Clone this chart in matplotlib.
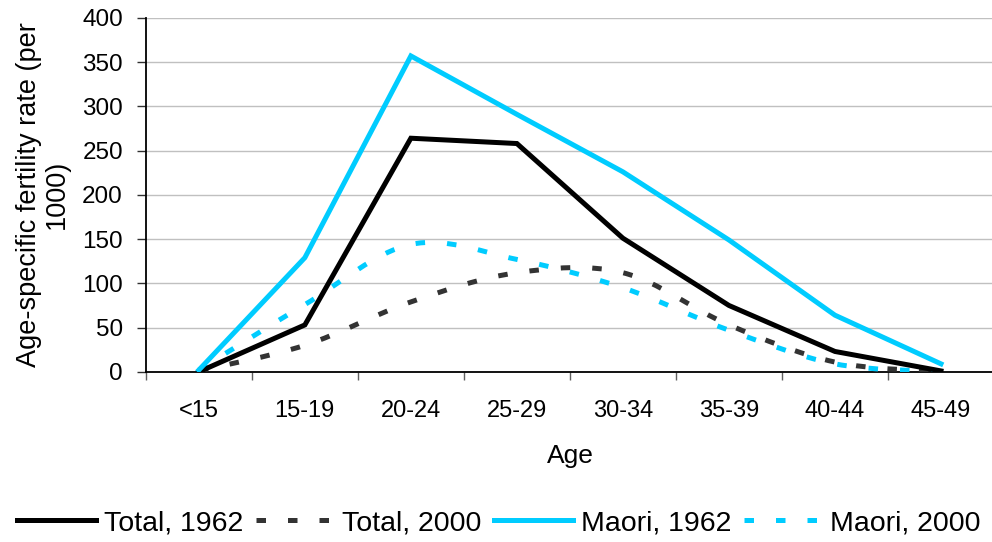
import numpy as np
import matplotlib
matplotlib.use('Agg')
import matplotlib.pyplot as plt
from matplotlib.path import Path
from matplotlib.patches import PathPatch
from matplotlib.lines import Line2D

plt.rcParams['font.family'] = ['Liberation Sans', 'DejaVu Sans']

ages = ['<15', '15-19', '20-24', '25-29', '30-34', '35-39', '40-44', '45-49']
total_1962 = [0, 53, 264, 258, 151, 75, 23, 1]
total_2000 = [1, 30, 79, 112, 112, 53, 11, 0]
maori_1962 = [2, 129, 357, 291, 226, 149, 64, 9]
maori_2000 = [2, 76, 144, 127, 95, 47, 9, 0]

cyan = '#00ccff'


def smooth_path(xs, ys):
    # Excel-style smoothed line: cubic bezier through every point
    pts = np.column_stack([xs, ys]).astype(float)
    ext = np.vstack([pts[0], pts, pts[-1]])
    verts = [pts[0]]
    codes = [Path.MOVETO]
    for i in range(len(pts) - 1):
        p0, p1, p2, p3 = ext[i], ext[i + 1], ext[i + 2], ext[i + 3]
        verts += [p1 + (p2 - p0) / 6, p2 - (p3 - p1) / 6, p2]
        codes += [Path.CURVE4] * 3
    return Path(verts, codes)


fig = plt.figure(figsize=(9.92, 5.42), dpi=100)
ax = fig.add_axes([0.147, 0.314, 0.855, 0.653])

x = np.arange(len(ages))
dash = (0, (1.9, 4.4))

ax.plot(x, total_1962, color='black', lw=3.6, solid_joinstyle='miter', zorder=4)
ax.add_patch(PathPatch(smooth_path(x, total_2000), fill=False, edgecolor='#333333',
                       lw=3.6, linestyle=dash, capstyle='butt', zorder=3))
ax.plot(x, maori_1962, color=cyan, lw=3.6, solid_joinstyle='miter', zorder=4)
ax.add_patch(PathPatch(smooth_path(x, maori_2000), fill=False, edgecolor=cyan,
                       lw=3.6, linestyle=dash, capstyle='butt', zorder=3))

ax.set_xlim(-0.5, 7.5)
ax.set_ylim(0, 400)
ax.set_yticks(np.arange(0, 401, 50))
ax.set_xticks(x)
ax.set_xticklabels(ages)
ax.set_xticks(np.arange(-0.5, 7.6, 1), minor=True)
ax.tick_params(axis='x', which='major', length=0, pad=20, labelsize=17)
ax.tick_params(axis='x', which='minor', length=6, width=1, color='#606060')
ax.tick_params(axis='y', length=6.5, width=1, color='#303030', labelsize=17.5, pad=10)
ax.grid(axis='y', color='#c0c0c0', lw=1)
ax.set_axisbelow(True)
for s in ['top', 'right']:
    ax.spines[s].set_visible(False)
ax.spines['left'].set_linewidth(1.3)
ax.spines['bottom'].set_linewidth(1.3)

ax.set_xlabel('Age', fontsize=19, labelpad=16)
ax.set_ylabel('Age-specific fertility rate (per\n1000)', fontsize=19.5, labelpad=9,
              linespacing=1.1)

handles = [
    Line2D([], [], color='black', lw=3.6),
    Line2D([], [], color='#333333', lw=3.6, linestyle=dash),
    Line2D([], [], color=cyan, lw=3.6),
    Line2D([], [], color=cyan, lw=3.6, linestyle=dash),
]
labels = ['Total, 1962', 'Total, 2000', 'Maori, 1962', 'Maori, 2000']
fig.legend(handles, labels, loc='center', bbox_to_anchor=(0.503, 0.035), ncol=4,
           frameon=False, fontsize=20.5, handlelength=2.75, handletextpad=0.28,
           columnspacing=0.45)

fig.savefig('out.png', dpi=100)
